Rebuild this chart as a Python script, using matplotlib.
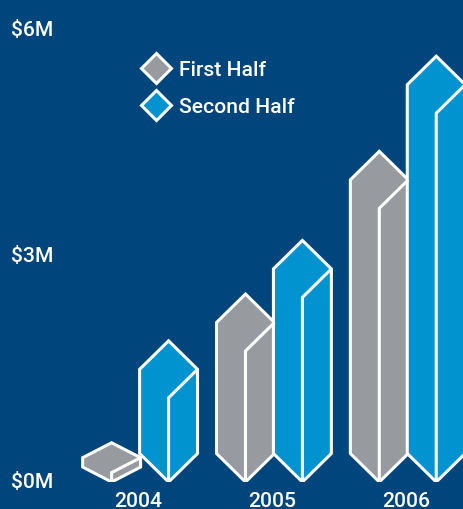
import matplotlib
matplotlib.use("Agg")
import matplotlib.pyplot as plt
from matplotlib.lines import Line2D
from matplotlib.patches import Polygon
from matplotlib.transforms import ScaledTranslation

plt.rcParams['font.family'] = ['Roboto', 'DejaVu Sans']

years = ['2004', '2005', '2006']
first_half = [0.52, 2.49, 4.38]
second_half = [1.87, 3.20, 5.64]
y_ticks = [0, 3, 6]
y_tick_labels = ['$0M', '$3M', '$6M']

bg = '#00457C'
grey = '#979A9E'
blue = '#0093D0'

W, H = 464, 510
base = 483               # pixel row of $0M, counted from the top
bar_half = 29 / 134      # half a column's width, in x units
cap = 28.5 / 75.5        # drop from the tip to the shoulder, in $M
offset = 28.5 / 134
edge = 2.2
fs = 15.2


def prism(ax, xc, value, color):
    # short columns get a flatter roof so the shape still fits
    d = min(cap, value * 0.38)
    left, right = xc - bar_half, xc + bar_half
    side = max(value - 2 * d, 0)
    outline = [(xc, value), (right, value - d), (right, d if side > 0 else 0),
               (xc, 0), (left, d), (left, value - d)]
    ax.add_patch(Polygon(outline, closed=True, fc=color, ec='white', lw=edge,
                         joinstyle='miter', clip_on=True))
    # inner edges of the front corner
    ax.plot([right, xc, xc], [value - d, value - 2 * d, 0], color='white',
            lw=edge, solid_joinstyle='miter', solid_capstyle='butt')


fig = plt.figure(figsize=(W / 100, H / 100), dpi=100, facecolor=bg)
ax = fig.add_axes([60 / W, (H - base) / H, (W - 60) / W, base / H], facecolor=bg)
ax.set_xlim((60 - 140.2) / 134, (W + 0.5 - 140.2) / 134)
ax.set_ylim(0, base / 75.5)

for i in range(len(years)):
    prism(ax, i - offset, first_half[i], grey)
    prism(ax, i + offset, second_half[i], blue)

for s in ax.spines.values():
    s.set_visible(False)
ax.set_xticks(range(len(years)), years)
ax.set_yticks(y_ticks, y_tick_labels)
ax.tick_params(length=0, colors='white', labelsize=fs)
ax.tick_params(axis='x', pad=6.5)
ax.tick_params(axis='y', pad=5)

# nudge the tick labels off the tick positions
nudge_x = ScaledTranslation(-2 / 100, 0, fig.dpi_scale_trans)
nudge_y = ScaledTranslation(0, 2 / 100, fig.dpi_scale_trans)
for t in ax.get_xticklabels():
    t.set_fontweight('medium')
    t.set_transform(t.get_transform() + nudge_x)
for t in ax.get_yticklabels():
    t.set_fontweight('medium')
    t.set_transform(t.get_transform() + nudge_y)

handles = [
    Line2D([], [], ls='', marker='D', ms=15.5, mfc=grey, mec='white', mew=edge, label='First Half'),
    Line2D([], [], ls='', marker='D', ms=15.5, mfc=blue, mec='white', mew=edge, label='Second Half'),
]
leg = ax.legend(handles=handles, loc='upper left', bbox_to_anchor=(0.185, 0.873),
                frameon=False, labelcolor='white',
                prop={'size': fs, 'weight': 'medium'},
                handletextpad=0.08, labelspacing=0.85, borderpad=0, borderaxespad=0)

fig.savefig('out.png', dpi=100, facecolor=bg)
